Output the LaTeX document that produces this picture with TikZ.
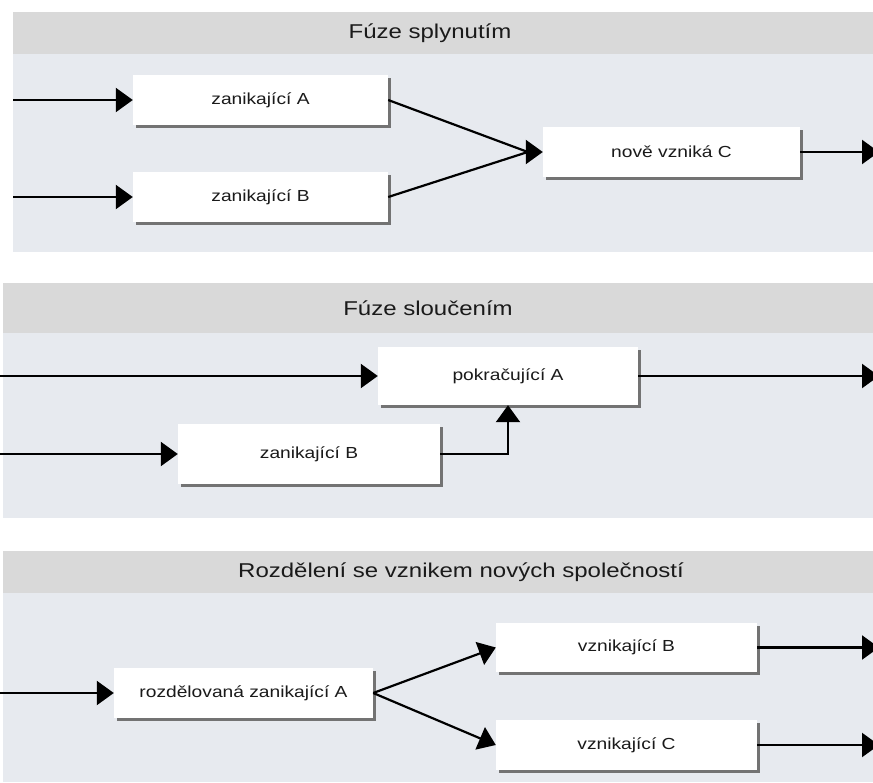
\documentclass[tikz,border=0pt]{standalone}
\usepackage{fontspec}
\setmainfont{Liberation Sans}[FakeStretch=1.2]
\usetikzlibrary{arrows.meta,shadows}
\definecolor{headgray}{HTML}{D9D9D9}
\definecolor{panelblue}{HTML}{E7EAEF}
\definecolor{txtgray}{HTML}{1A1A1A}

\begin{document}
\begin{tikzpicture}[x=1pt,y=-1pt,
  box/.style={fill=white,text=txtgray,font=\fontsize{16}{18}\selectfont,inner sep=0pt,
    minimum height=50pt,drop shadow={shadow xshift=3pt,shadow yshift=-3pt,opacity=1,fill=black!55}},
  title/.style={text=txtgray,font=\fontsize{20}{24}\selectfont},
  link/.style={line width=2.2pt},
  arr/.style={line width=2.2pt,-{Triangle[length=17pt,width=24pt]}}]
\useasboundingbox (0,0) rectangle (873,782);

\fill[headgray] (13,12) rectangle (873,54);
\fill[panelblue] (13,54) rectangle (873,252);
\fill[headgray] (3,283) rectangle (873,333);
\fill[panelblue] (3,333) rectangle (873,518);
\fill[headgray] (3,551) rectangle (873,593);
\fill[panelblue] (3,593) rectangle (873,782);

\coordinate (lft1) at (13,0);
\coordinate (lft2) at (0,0);
\coordinate (rgt) at (879,0);

\node[title] (t1) at (430,33) {Fúze splynutím};
\node[box,minimum width=255pt] (zanA) at (260.5,100) {zanikající A};
\node[box,minimum width=255pt] (zanB) at (260.5,197) {zanikající B};
\node[box,minimum width=257pt] (noveC) at (671.5,152) {nově vzniká C};
\coordinate (mC) at ([xshift=-15pt]noveC.west);

\draw[arr] (zanA.west -| lft1) -- (zanA.west);
\draw[arr] (zanB.west -| lft1) -- (zanB.west);
\draw[link] (zanA.east) -- (mC) (zanB.east) -- (mC);
\draw[arr] (mC) -- (noveC.west);
\draw[arr] (noveC.east) -- (noveC.east -| rgt);

\node[title] (t2) at (428,308) {Fúze sloučením};
\node[box,minimum width=260pt,minimum height=58pt] (pokrA) at (508,376) {pokračující A};
\node[box,minimum width=262pt,minimum height=60pt] (zanB2) at (309,454) {zanikající B};

\draw[arr] (pokrA.west -| lft2) -- (pokrA.west);
\draw[arr] (zanB2.west -| lft2) -- (zanB2.west);
\draw[arr] (zanB2.east) -| (pokrA.south);
\draw[arr] (pokrA.east) -- (pokrA.east -| rgt);

\node[title] (t3) at (461,572) {Rozdělení se vznikem nových společností};
\node[box,minimum width=259pt] (rozA) at (243.5,693) {rozdělovaná zanikající A};
\node[box,minimum width=261pt,minimum height=49pt] (vznB) at (626.5,647.5) {vznikající B};
\node[box,minimum width=261pt] (vznC) at (626.5,745) {vznikající C};

\draw[arr] (rozA.west -| lft2) -- (rozA.west);
\draw[arr] (rozA.east) -- (vznB.west);
\draw[arr] (rozA.east) -- (vznC.west);
\draw[arr] (vznB.east) -- (vznB.east -| rgt);
\draw[arr] (vznC.east) -- (vznC.east -| rgt);
\end{tikzpicture}
\end{document}
